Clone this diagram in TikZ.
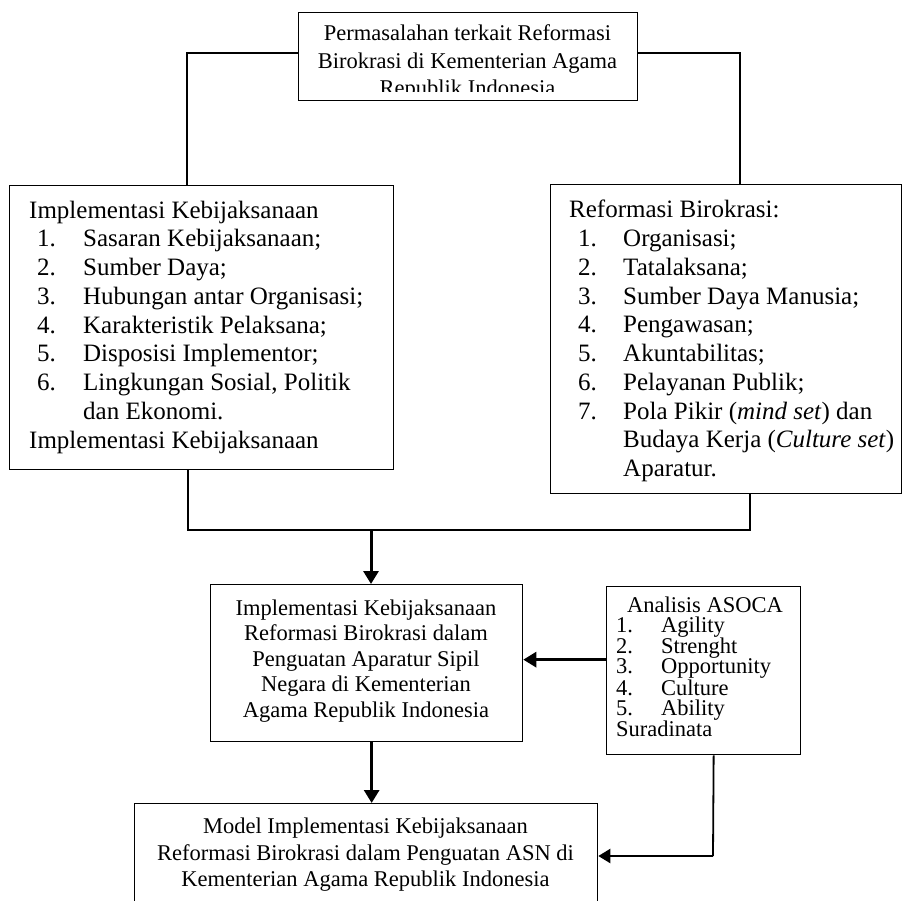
\documentclass[tikz,border=0pt]{standalone}
\usepackage{fontspec}
\setmainfont{Liberation Serif}
\usetikzlibrary{arrows.meta}
\begin{document}
\begin{tikzpicture}[x=1pt,y=-1pt,
  box/.style={draw, line width=1.3pt, inner sep=0pt, anchor=north west, fill=white},
  bigtxt/.style={inner sep=0pt, align=left, font=\fontsize{25}{28.75}\selectfont},
  smalltxt/.style={inner sep=0pt, font=\fontsize{22.5}{25.4}\selectfont},
  conn/.style={line width=1.8pt},
  thickarrow/.style={line width=3pt, -{Triangle[length=13pt,width=15pt]}},
  medarrow/.style={line width=2.2pt, -{Triangle[length=12pt,width=14pt]}},
]
\clip (0,0) rectangle (902,900);
\fill[white] (0,0) rectangle (902,900);

% boxes
\node[box, minimum width=339pt, minimum height=88pt] (top) at (298,12) {};
\node[box, minimum width=384pt, minimum height=284pt] (left) at (9,185) {};
\node[box, minimum width=351pt, minimum height=309pt] (right) at (550,184) {};
\node[box, minimum width=312pt, minimum height=157pt] (mid) at (210,584) {};
\node[box, minimum width=194pt, minimum height=168pt] (asoca) at (606,586) {};
\node[box, minimum width=463pt, minimum height=110pt] (bot) at (134,803) {};

% top text (clipped by the box)
\begin{scope}
\clip (299,13) rectangle (636,91);
\node[smalltxt, align=center, font=\fontsize{22.5}{27.5}\selectfont] (toptext) at (467.5,62.5)
  {Permasalahan terkait Reformasi\\Birokrasi di Kementerian Agama\\Republik Indonesia};
\end{scope}

% left text
\node[bigtxt, anchor=west] (lefttext) at (29,327) {%
Implementasi Kebijaksanaan\\
\hspace*{8pt}\makebox[46pt][l]{1.}Sasaran Kebijaksanaan;\\
\hspace*{8pt}\makebox[46pt][l]{2.}Sumber Daya;\\
\hspace*{8pt}\makebox[46pt][l]{3.}Hubungan antar Organisasi;\\
\hspace*{8pt}\makebox[46pt][l]{4.}Karakteristik Pelaksana;\\
\hspace*{8pt}\makebox[46pt][l]{5.}Disposisi Implementor;\\
\hspace*{8pt}\makebox[46pt][l]{6.}Lingkungan Sosial, Politik\\
\hspace*{54pt}dan Ekonomi.\\
Implementasi Kebijaksanaan};

% right text
\node[bigtxt, anchor=west] (righttext) at (569,341) {%
Reformasi Birokrasi:\\
\hspace*{9pt}\makebox[45pt][l]{1.}Organisasi;\\
\hspace*{9pt}\makebox[45pt][l]{2.}Tatalaksana;\\
\hspace*{9pt}\makebox[45pt][l]{3.}Sumber Daya Manusia;\\
\hspace*{9pt}\makebox[45pt][l]{4.}Pengawasan;\\
\hspace*{9pt}\makebox[45pt][l]{5.}Akuntabilitas;\\
\hspace*{9pt}\makebox[45pt][l]{6.}Pelayanan Publik;\\
\hspace*{9pt}\makebox[45pt][l]{7.}Pola Pikir (\textit{mind set}) dan\\
\hspace*{54pt}Budaya Kerja (\textit{Culture set})\\
\hspace*{54pt}Aparatur.};

% middle text
\node[smalltxt, align=center] (midtext) at (366,661) {%
Implementasi Kebijaksanaan\\Reformasi Birokrasi dalam\\Penguatan Aparatur Sipil\\Negara di Kementerian\\Agama Republik Indonesia};

% ASOCA text
\node[smalltxt, align=left, anchor=west, font=\fontsize{22.5}{20}\selectfont] (asocatext) at (616,667) {%
\hspace*{11pt}Analisis ASOCA\\
\makebox[45pt][l]{1.}Agility\\
\makebox[45pt][l]{2.}Strenght\\
\makebox[45pt][l]{3.}Opportunity\\
\makebox[45pt][l]{4.}Culture\\
\makebox[45pt][l]{5.}Ability\\
Suradinata};

% bottom text
\node[smalltxt, align=center, font=\fontsize{22.5}{26.5}\selectfont] (bottext) at (365.5,855) {%
Model Implementasi Kebijaksanaan\\Reformasi Birokrasi dalam Penguatan ASN di\\Kementerian Agama Republik Indonesia};

% connectors
\draw[conn] ([yshift=4pt]top.west) -| ([xshift=-15pt]left.north);
\draw[conn] ([yshift=4pt]top.east) -| ([xshift=13.5pt]right.north);
\coordinate (join) at (371,530);
\draw[conn] ([xshift=-14pt]left.south) |- (join) -| ([xshift=23.5pt]right.south);
\draw[thickarrow] (join) -- (join |- mid.north);
\draw[thickarrow] ([yshift=11pt]asoca.west) -- ([yshift=11pt]asoca.west -| mid.east);
\draw[thickarrow] ([xshift=5pt]mid.south) -- ([xshift=5pt]mid.south |- bot.north);
\coordinate (bend) at (713,856);
\draw[conn] ([xshift=10pt]asoca.south) -- (bend);
\draw[medarrow] (bend) -- (bend -| bot.east);
\end{tikzpicture}
\end{document}
